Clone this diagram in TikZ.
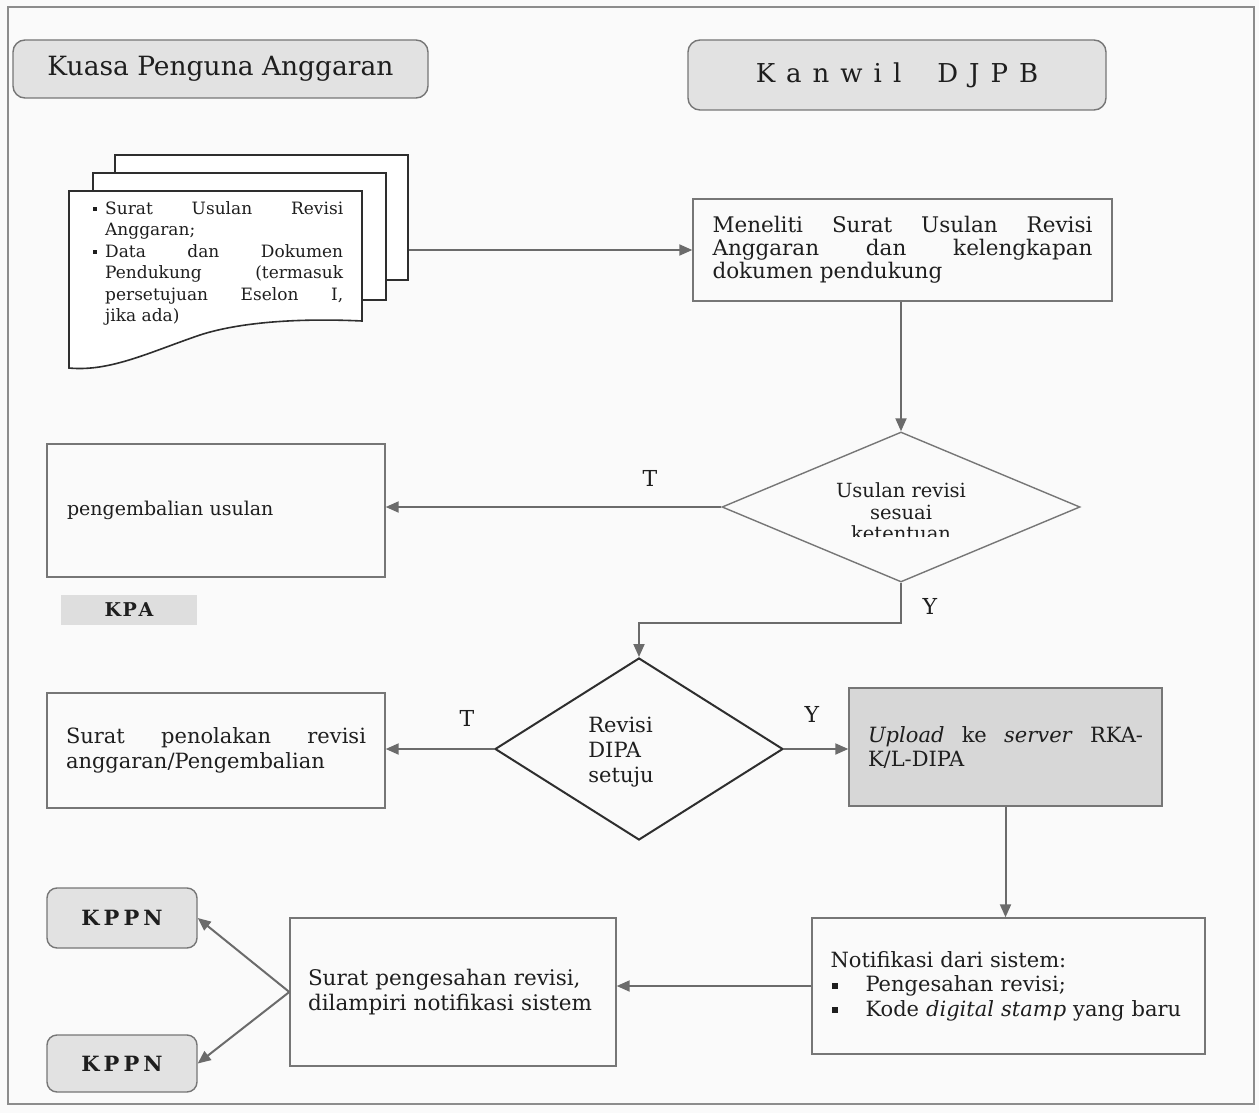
\documentclass[tikz,border=0pt]{standalone}
\usepackage{fontspec}
\setmainfont{DejaVu Serif}
\usetikzlibrary{shapes.geometric,arrows.meta}
\definecolor{bgc}{HTML}{FAFAFA}
\definecolor{ln}{HTML}{6B6B6B}
\definecolor{bd}{HTML}{767676}
\definecolor{dk}{HTML}{2E2E2E}
\definecolor{tx}{HTML}{1E1E1E}
\definecolor{hdr}{HTML}{E2E2E2}
\definecolor{upl}{HTML}{D7D7D7}
\definecolor{kpafill}{HTML}{DEDEDE}
\definecolor{frm}{HTML}{8C8C8C}
\newcommand\bitem{\hangindent=12pt\hangafter=1\noindent\makebox[12pt][l]{\raisebox{3.5pt}{\rule{4pt}{4pt}}}}
\newcommand\nbul{\makebox[35pt][l]{\hspace{1pt}\raisebox{3pt}{\rule{6pt}{6pt}}}}
\begin{document}
\begin{tikzpicture}[x=1pt,y=-1pt,
 every node/.style={text=tx},
 box/.style={draw=bd,line width=1.4pt,inner sep=0pt},
 hdrbox/.style={draw=bd,line width=1.4pt,fill=hdr,rounded corners=12pt,inner sep=0pt},
 arr/.style={draw=ln,line width=2pt,-{Triangle[length=13pt,width=11pt]}},
 lbl/.style={font=\fontsize{22}{24}\selectfont},
 page/.style={draw=dk,line width=1.6pt,fill=white},
]
\useasboundingbox (0,0) rectangle (1259,1113);
\fill[bgc] (0,0) rectangle (1259,1113);
\draw[frm,line width=1.5pt] (8,7) rectangle (1254,1104);

% headers
\node[hdrbox,minimum width=415pt,minimum height=58pt,font=\fontsize{26.5}{30}\selectfont] (hkpa) at (220.5,69) {Kuasa Penguna Anggaran};
\node[hdrbox,minimum width=418pt,minimum height=70pt,font=\fontsize{26}{30}\selectfont] (hkan) at (897,75) {K\kern11pt a\kern11pt n\kern11pt w\kern11pt i\kern11pt l\kern36pt D\kern11pt J\kern11pt P\kern11pt B};

% document stack
\node[page,minimum width=293pt,minimum height=125pt,inner sep=0pt] (docback) at (261.5,217.5) {};
\node[page,minimum width=293pt,minimum height=127pt,inner sep=0pt] (docmid) at (239.5,236.5) {};
\draw[page] (69,191) -- (362,191) -- (362,321) .. controls (300,318) and (240,322) .. (200,335) .. controls (150,352) and (110,372) .. (69,368) -- cycle;
\node[anchor=north west,inner sep=0pt] (doc) at (93,201) {\parbox[t]{250pt}{\fontsize{17}{21.5}\selectfont\parindent=0pt\parskip=0pt
\bitem Surat Usulan Revisi\linebreak Anggaran;\par
\bitem Data dan Dokumen\linebreak Pendukung (termasuk\linebreak persetujuan Eselon I,\linebreak jika ada)}};

% Meneliti
\node[box,minimum width=419pt,minimum height=102pt,text width=380pt,align=justify,font=\fontsize{21.5}{23}\selectfont] (men) at (902.5,250) {Meneliti Surat Usulan Revisi\linebreak Anggaran dan kelengkapan\linebreak dokumen pendukung};
\draw[arr] (docback.east |- men.west) -- (men.west);

% diamond 1
\node[diamond,draw=bd,line width=1.4pt,minimum width=358pt,minimum height=150pt,inner sep=0pt] (d1) at (901,507) {};
\begin{scope}
\clip (790,470) rectangle (1010,536);
\node[align=center,inner sep=0pt,font=\fontsize{19.5}{21.5}\selectfont] (d1t) at (901,512) {Usulan revisi\\sesuai\\ketentuan};
\end{scope}
\draw[arr] (d1.north |- men.south) -- (d1.north);

% pengembalian
\node[box,minimum width=338pt,minimum height=133pt,text width=298pt,align=left,font=\fontsize{19}{22}\selectfont] (peng) at (216,510.5) {pengembalian usulan};
\draw[arr] (d1.west) -- (d1.west -| peng.east);
\node[lbl] (t1) at (650,478) {T};

% KPA
\node[fill=kpafill,minimum width=136pt,minimum height=30pt,inner sep=0pt,font=\bfseries\fontsize{19}{20}\selectfont] (kpa) at (129,610) {K\kern1.5pt P\kern1.5pt A};

% diamond 2
\node[diamond,draw=dk,line width=2pt,minimum width=288pt,minimum height=182pt,inner sep=0pt] (d2) at (639,749) {};
\node[align=left,inner sep=0pt,font=\fontsize{21}{25}\selectfont] (d2t) at (621,752) {Revisi\\DIPA\\setuju};
\draw[arr] (d1.south) -- ++(0,40) -| (d2.north);
\node[lbl] (y1) at (930,606) {Y};

% penolakan
\node[box,minimum width=338pt,minimum height=115pt,text width=300pt,align=justify,font=\fontsize{21}{25}\selectfont] (tolak) at (216,750.5) {Surat penolakan revisi\linebreak anggaran/Pengembalian};
\draw[arr] (d2.west) -- (d2.west -| tolak.east);
\node[lbl] (t2) at (467,718) {T};

% upload
\node[box,fill=upl,minimum width=313pt,minimum height=118pt,text width=275pt,align=justify,font=\fontsize{21}{24}\selectfont] (upl) at (1005.5,747) {\textit{Upload} ke \textit{server} RKA-\linebreak K/L-DIPA};
\draw[arr] (d2.east) -- (d2.east -| upl.west);
\node[lbl] (y2) at (812,714) {Y};

% notifikasi
\node[box,minimum width=393pt,minimum height=136pt,text width=356pt,align=left,font=\fontsize{21}{24.5}\selectfont] (notif) at (1008.5,986) {Notifikasi dari sistem:\\\nbul Pengesahan revisi;\\\nbul Kode \textit{digital stamp} yang baru};
\draw[arr] (upl.south) -- (upl.south |- notif.north);

% pengesahan
\node[box,minimum width=326pt,minimum height=148pt,text width=290pt,align=left,font=\fontsize{21.5}{25}\selectfont] (sah) at (453,992) {Surat pengesahan revisi,\\dilampiri notifikasi sistem};
\draw[arr] (notif.west) -- (notif.west -| sah.east);

% KPPN
\node[hdrbox,rounded corners=10pt,minimum width=150pt,minimum height=60pt,font=\bfseries\fontsize{21}{23}\selectfont] (kppn1) at (122,918) {K\kern4pt P\kern4pt P\kern4pt N};
\node[hdrbox,rounded corners=10pt,minimum width=150pt,minimum height=57pt,font=\bfseries\fontsize{21}{23}\selectfont] (kppn2) at (122,1063.5) {K\kern4pt P\kern4pt P\kern4pt N};
\draw[arr] (sah.west) -- (kppn1.east);
\draw[arr] (sah.west) -- (kppn2.east);
\end{tikzpicture}
\end{document}
